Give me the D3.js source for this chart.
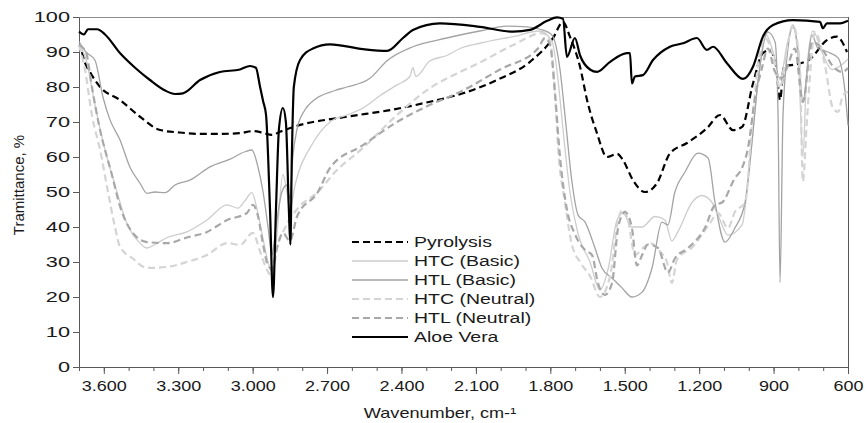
<!DOCTYPE html>
<html>
<head>
<meta charset="utf-8">
<script src="https://cdn.jsdelivr.net/npm/d3@7"></script>
<style>
  body { margin: 0; background: #fff; }
  text { font-family: "Liberation Sans", Arial, sans-serif; fill: #1a1a1a; }
</style>
</head>
<body>
<div id="chart"></div>
<script>
const width = 867, height = 423,
  margin = ({ top: 17, right: 19, bottom: 56, left: 79 });

// [wavenumber, transmittance %]
const pyrolysis = [[3688,90],[3676,87],[3656,84.3],[3615,80],[3535,76.3],[3454,71.5],[3373,67.7],[3293,67],[3212,66.6],[3132,66.6],[3051,66.8],[2999,67.4],[2962,67],[2922,66.3],[2890,67.2],[2821,68.9],[2620,71.5],[2446,73.4],[2285,75.8],[2152,78.2],[2015,82],[1882,87.2],[1789,94],[1749,98.6],[1721,94.4],[1680,85.7],[1652,76.3],[1612,66.8],[1572,60],[1531,60.9],[1507,59.1],[1467,53.4],[1418,50],[1370,52.5],[1318,61],[1249,64],[1169,68.2],[1116,72],[1064,67.7],[1027,68.6],[983,81],[943,89.7],[915,90.5],[890,86],[874,76.3],[858,86],[822,86.3],[753,88],[685,93.4],[645,94.4],[604,90]];

const htcBasic = [[3700,92],[3672,88],[3636,75],[3595,62],[3555,52],[3507,41],[3454,35.4],[3426,34],[3394,35],[3345,37],[3265,38.6],[3184,42],[3103,46.3],[3059,45.4],[3031,47.5],[3003,49.8],[2982,45],[2962,38],[2938,30],[2922,27],[2902,38],[2878,55],[2862,50],[2850,45],[2829,52],[2757,64],[2688,70],[2620,72],[2555,74],[2487,77.5],[2418,80.6],[2366,83],[2354,85.5],[2342,83],[2285,87.5],[2217,89],[2164,91],[2084,92.5],[1950,94.4],[1842,96],[1793,93],[1769,82],[1749,68],[1721,50],[1688,38],[1640,30],[1600,22],[1567,28],[1531,42],[1507,44],[1471,40],[1430,40],[1378,43],[1338,42],[1310,36],[1286,38.6],[1229,47],[1189,49],[1148,47],[1124,43.4],[1084,37.7],[1027,40.6],[1003,53],[963,81.4],[931,95],[902,90],[874,82],[846,92],[822,97],[798,85],[782,60],[766,85],[741,96],[705,90],[665,85],[632,86],[600,88]];

const htlBasic = [[3700,93],[3672,90],[3636,87.7],[3603,77],[3575,70.6],[3535,64.9],[3494,57],[3454,52.5],[3426,49.6],[3394,50],[3353,49.8],[3313,52],[3253,53.4],[3172,57.2],[3091,59.4],[3031,61.5],[3003,62],[2978,57],[2958,50],[2938,40],[2922,32],[2906,40],[2882,50],[2862,52],[2850,48],[2838,60],[2821,68],[2789,73.5],[2757,76],[2668,79],[2620,80],[2527,82.5],[2458,87.5],[2354,91.5],[2217,94],[2084,96],[1975,97.4],[1894,97.2],[1842,96.5],[1793,94.8],[1761,85],[1741,72],[1713,53],[1688,43.4],[1660,41.4],[1620,34],[1592,28.3],[1551,25.4],[1511,22.6],[1471,20],[1430,21.4],[1390,28.3],[1350,41.4],[1326,40.6],[1298,50],[1257,55.7],[1205,61.1],[1164,59.7],[1136,47],[1096,35.7],[1056,39.7],[1015,47],[987,64.3],[963,81.4],[923,95.7],[894,92.9],[882,72],[874,24.2],[862,72],[842,91],[822,97.7],[802,91],[782,76],[745,94.8],[721,91],[681,90],[640,88.3],[612,78.6],[600,69]];

const htcNeutral = [[3700,92],[3676,85],[3648,72],[3615,62],[3583,50],[3555,40],[3535,34.4],[3483,31],[3426,28.3],[3345,28.6],[3265,30],[3184,32],[3103,35.4],[3051,34.9],[2999,38.3],[2970,33],[2942,27.7],[2922,26],[2902,34],[2870,39.7],[2817,45.4],[2737,50],[2668,55.7],[2555,62.6],[2418,72],[2285,79.7],[2164,84.3],[2084,87],[1950,92],[1833,95.4],[1801,93],[1781,78],[1769,63],[1741,47],[1713,35],[1680,30],[1640,26],[1600,20],[1559,26],[1527,42],[1507,45],[1487,42],[1459,32],[1427,34],[1398,35.4],[1358,33],[1330,30],[1310,24],[1290,30.6],[1225,34.4],[1157,41],[1124,44],[1084,39.7],[1056,44.3],[1015,47],[987,69],[963,86.3],[935,94],[902,89],[874,79.7],[846,91],[822,97.7],[794,86],[782,53],[766,70],[733,95.7],[693,86.3],[661,74],[640,72.9],[620,77.7],[600,78.6]];

const htlNeutral = [[3700,92],[3672,90],[3648,80],[3619,69],[3567,54.8],[3535,46],[3483,38.3],[3426,35.7],[3345,35.4],[3265,37],[3184,38.6],[3103,42],[3023,44],[2999,46.3],[2978,43],[2958,35],[2938,29],[2922,28],[2902,34],[2878,38.3],[2850,36],[2821,43],[2737,50],[2688,56.9],[2555,63.4],[2418,70],[2285,74.9],[2164,78.6],[2003,85],[1850,91],[1821,94],[1801,92],[1781,78],[1761,60],[1733,45],[1701,38],[1660,33.4],[1632,32],[1608,24],[1580,20.6],[1551,24],[1527,39.7],[1499,44.3],[1471,39.7],[1451,29],[1430,32],[1406,35],[1366,34],[1326,27],[1298,31],[1245,34],[1177,39.7],[1136,46.3],[1108,47],[1056,54],[1027,56.9],[1003,62.6],[975,76.8],[947,85.4],[923,91],[894,84.3],[866,82.6],[842,86.3],[814,91],[782,75.7],[745,92.9],[705,91],[665,86.3],[624,84.3],[600,85.4]];

const aloeVera = [[3700,95.8],[3680,95],[3664,96.5],[3627,96.5],[3595,95],[3535,89.7],[3474,85.5],[3414,82],[3353,79],[3313,78],[3281,78.2],[3212,82],[3132,84.3],[3051,85],[3011,86],[2987,85.5],[2970,80],[2958,76],[2946,72],[2930,45],[2918,20],[2906,45],[2894,68],[2878,74],[2866,70],[2854,45],[2848,35],[2842,60],[2834,80],[2809,87.7],[2757,91],[2688,92.2],[2555,90.8],[2458,90.3],[2394,94],[2354,96.3],[2245,98.2],[2084,97.2],[1950,95.8],[1882,96.3],[1813,98.9],[1773,99.9],[1749,99.5],[1733,88.6],[1701,94],[1680,89],[1640,85],[1612,84.3],[1559,87.2],[1491,89.7],[1479,89.7],[1471,81],[1459,83],[1427,83.4],[1386,87.7],[1318,91.5],[1265,92.5],[1209,94],[1169,90.6],[1144,91.5],[1088,86.8],[1023,82.3],[983,85.8],[943,94.4],[902,97.7],[822,99.1],[713,98.6],[701,96.8],[685,98.2],[632,98.2],[600,98.9]];

const seriesNames = ["Pyrolysis", "HTC (Basic)", "HTL (Basic)", "HTC (Neutral)", "HTL (Neutral)", "Aloe Vera"];
const seriesData = [pyrolysis, htcBasic, htlBasic, htcNeutral, htlNeutral, aloeVera];
const seriesStyle = [
  { color: "#000000", w: 2.2, dash: "7,4" },
  { color: "#cdcdcd", w: 1.3, dash: null },
  { color: "#a3a3a3", w: 1.3, dash: null },
  { color: "#d4d4d4", w: 2.2, dash: "7,4" },
  { color: "#a8a8a8", w: 2.2, dash: "7,4" },
  { color: "#000000", w: 2.2, dash: null }
];

const xMajorTicks = [3600, 3300, 3000, 2700, 2400, 2100, 1800, 1500, 1200, 900, 600];
const xMinorTicks = d3.range(600, 3701, 100);
const yTicks = d3.range(0, 101, 10);

const svg = d3.select("#chart")
  .append("svg")
  .attr("width", width)
  .attr("height", height);

const x = d3.scaleLinear()
  .domain([3700, 600])
  .range([margin.left, width - margin.right]);

const y = d3.scaleLinear()
  .domain([0, 100])
  .range([height - margin.bottom, margin.top]);

// thousands with a dot, like the original
const fmt = d3.formatLocale({ decimal: ",", thousands: ".", grouping: [3], currency: ["", ""] }).format(",");

// plot frame, top and right
svg.append("line")
  .attr("x1", margin.left).attr("x2", width - margin.right)
  .attr("y1", margin.top + 0.5).attr("y2", margin.top + 0.5)
  .attr("stroke", "#8c8c8c");
svg.append("line")
  .attr("x1", width - margin.right + 0.5).attr("x2", width - margin.right + 0.5)
  .attr("y1", margin.top).attr("y2", height - margin.bottom)
  .attr("stroke", "#595959");

// minor x ticks
svg.append("g")
  .attr("transform", `translate(0,${height - margin.bottom})`)
  .call(d3.axisBottom(x).tickValues(xMinorTicks).tickSize(4).tickFormat(""))
  .call(g => g.select(".domain").remove())
  .call(g => g.selectAll("line").attr("stroke", "#595959"));

// major x ticks
svg.append("g")
  .attr("transform", `translate(0,${height - margin.bottom})`)
  .call(d3.axisBottom(x).tickValues(xMajorTicks).tickSize(7).tickSizeOuter(0).tickPadding(6).tickFormat(fmt))
  .call(g => g.select(".domain").attr("stroke", "#595959"))
  .call(g => g.selectAll("line").attr("stroke", "#595959"))
  .call(g => g.selectAll("text")
    .attr("font-size", 15)
    .attr("fill", "#1a1a1a")
    .attr("transform", "scale(1.2,1)"));

// y axis
svg.append("g")
  .attr("transform", `translate(${margin.left},0)`)
  .call(d3.axisLeft(y).tickValues(yTicks).tickSize(6).tickSizeOuter(0))
  .call(g => g.select(".domain").attr("stroke", "#595959"))
  .call(g => g.selectAll("line").attr("stroke", "#595959"))
  .call(g => g.selectAll("text")
    .attr("font-size", 15)
    .attr("fill", "#1a1a1a")
    .attr("x", -9 / 1.45)
    .attr("transform", "scale(1.45,1)"));

// series, legend order = drawing order
const line = d3.line()
  .x(d => x(d[0]))
  .y(d => y(d[1]))
  .curve(d3.curveMonotoneX);

seriesData.forEach((data, i) => {
  const s = seriesStyle[i];
  svg.append("path")
    .datum(data)
    .attr("fill", "none")
    .attr("stroke", s.color)
    .attr("stroke-width", s.w)
    .attr("stroke-dasharray", s.dash)
    .attr("stroke-linejoin", "round")
    .attr("d", line);
});

// legend
const legend = svg.append("g");
seriesNames.forEach((name, i) => {
  const s = seriesStyle[i];
  const ly = 242 + i * 19;
  legend.append("line")
    .attr("x1", 352).attr("x2", 408)
    .attr("y1", ly).attr("y2", ly)
    .attr("stroke", s.color)
    .attr("stroke-width", s.w)
    .attr("stroke-dasharray", s.dash);
  legend.append("text")
    .attr("transform", `translate(414,${ly}) scale(1.3,1)`)
    .attr("dy", "0.35em")
    .attr("font-size", 15)
    .text(name);
});

// axis titles
svg.append("text")
  .attr("transform", `translate(440,418) scale(1.25,1)`)
  .attr("text-anchor", "middle")
  .attr("font-size", 14.5)
  .text("Wavenumber, cm-¹");

svg.append("text")
  .attr("transform", "translate(24,185) rotate(-90)")
  .attr("text-anchor", "middle")
  .attr("font-size", 15)
  .text("Tramittance, %");
</script>
</body>
</html>
